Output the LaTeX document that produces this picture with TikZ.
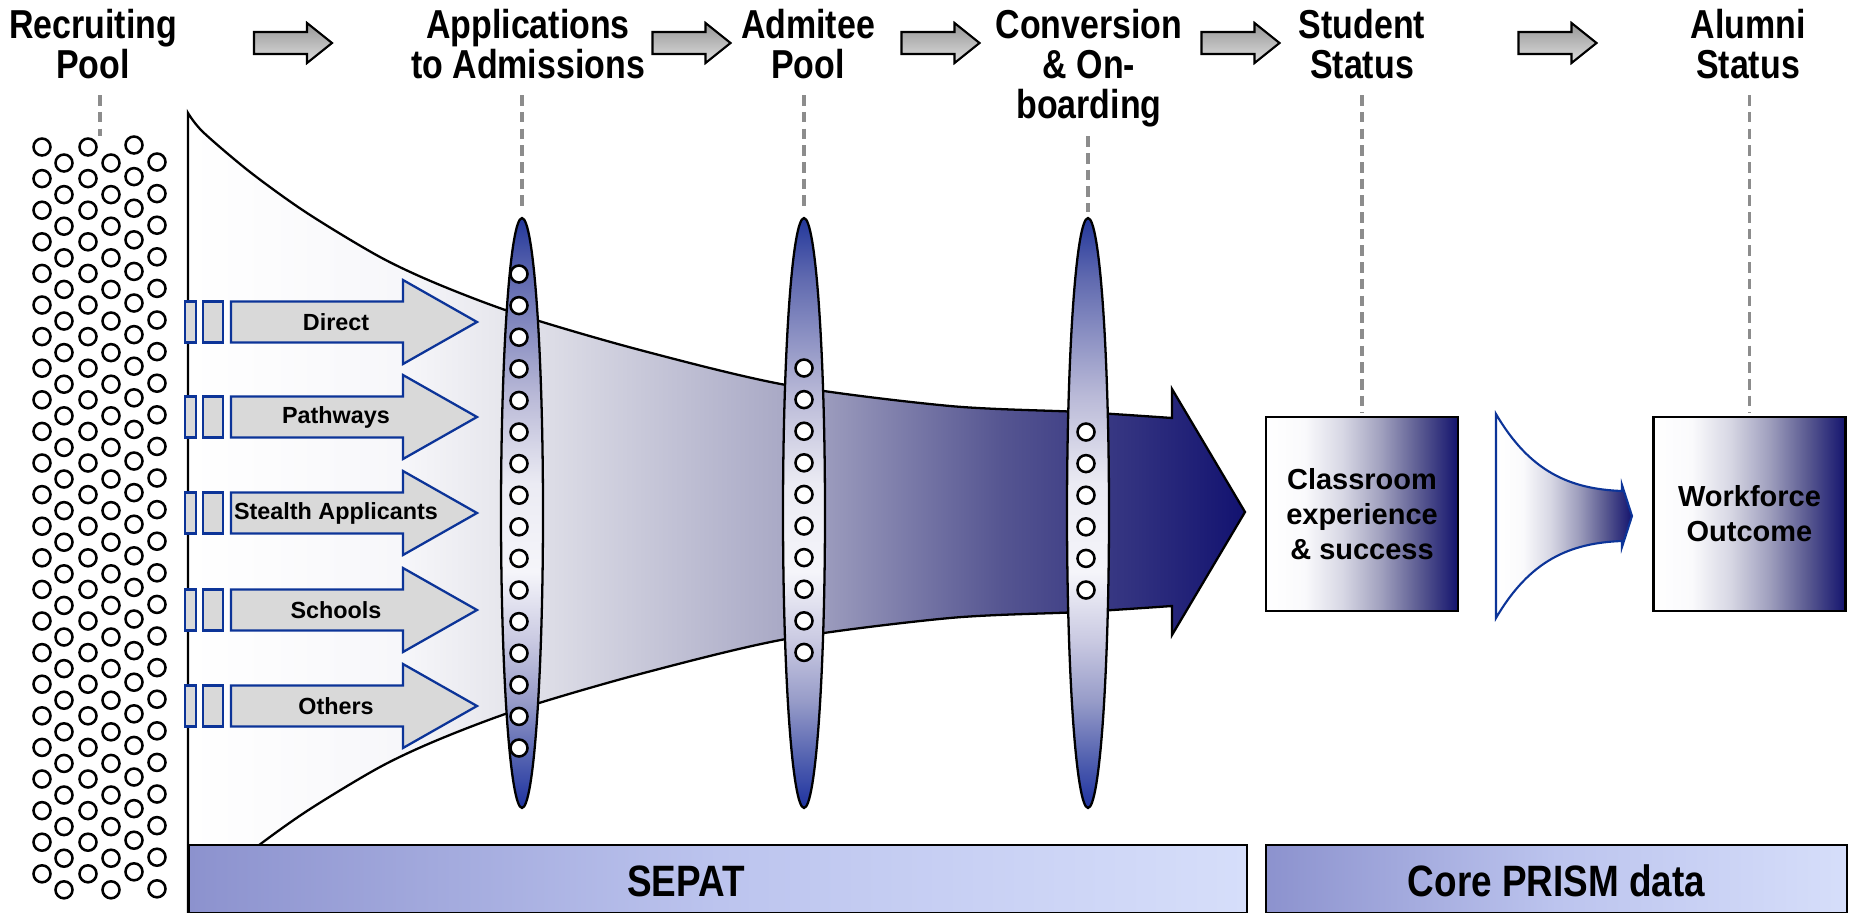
\documentclass[tikz,border=0pt]{standalone}
\usepackage{fontspec}
\setmainfont{Liberation Sans}
\newfontfamily\narrowfont{Liberation Sans}[FakeStretch=0.84]
\usetikzlibrary{shapes.geometric}

\definecolor{navy}{RGB}{18,18,112}
\definecolor{chanblue}{RGB}{12,52,152}
\definecolor{chanfill}{RGB}{217,217,217}
\definecolor{leadgray}{RGB}{140,140,140}
\definecolor{arrtop}{RGB}{150,150,150}
\definecolor{arrbot}{RGB}{222,222,222}
\definecolor{barleft}{RGB}{140,146,206}
\definecolor{barmid}{RGB}{188,196,238}
\definecolor{barright}{RGB}{214,222,250}
\definecolor{fnA}{RGB}{247,247,250}
\definecolor{fnB}{RGB}{228,228,235}
\definecolor{fnC}{RGB}{165,165,195}
\definecolor{fnD}{RGB}{85,85,145}
\definecolor{lnA}{RGB}{35,55,155}
\definecolor{lnB}{RGB}{95,105,175}
\definecolor{lnC}{RGB}{140,145,195}
\definecolor{lnD}{RGB}{185,185,215}
\definecolor{lnE}{RGB}{235,235,243}
\definecolor{lnF}{RGB}{245,245,250}
\definecolor{lnG}{RGB}{200,200,225}
\definecolor{lnH}{RGB}{150,155,200}
\definecolor{lnI}{RGB}{80,95,175}
\definecolor{lnJ}{RGB}{30,50,160}
\definecolor{bxA}{RGB}{250,250,252}
\definecolor{bxB}{RGB}{215,215,228}
\definecolor{bxC}{RGB}{160,160,190}
\definecolor{bxD}{RGB}{90,90,145}
\definecolor{bxE}{RGB}{20,20,110}

\pgfdeclarehorizontalshading{funnelshade}{100bp}{color(0bp)=(white); color(25bp)=(white); color(35bp)=(fnA); color(40.5bp)=(fnB); color(54bp)=(fnC); color(63.5bp)=(fnD); color(75bp)=(navy); color(100bp)=(navy)}
\pgfdeclareverticalshading{lensshade}{100bp}{color(0bp)=(lnJ); color(25bp)=(lnJ); color(29bp)=(lnI); color(34bp)=(lnH); color(39bp)=(lnG); color(45bp)=(lnF); color(52.5bp)=(lnE); color(60bp)=(lnD); color(65bp)=(lnC); color(70bp)=(lnB); color(75bp)=(lnA); color(100bp)=(lnA)}
\pgfdeclarehorizontalshading{boxshade}{100bp}{color(0bp)=(white); color(25bp)=(white); color(35bp)=(bxA); color(45bp)=(bxB); color(55bp)=(bxC); color(65bp)=(bxD); color(75bp)=(bxE); color(100bp)=(bxE)}

\begin{document}
\begin{tikzpicture}[x=0.02cm, y=-0.02cm,
  ttl/.style={font=\narrowfont\bfseries\fontsize{23}{22.7}\selectfont, align=center, anchor=north, inner sep=0pt},
  leader/.style={draw=leadgray, line width=2pt, dash pattern=on 6pt off 3.5pt},
  hdrarrow/.style={draw=black, line width=1.2pt, top color=arrtop, bottom color=arrbot},
  poolcirc/.style={draw=black, line width=1.45pt, fill=white},
  funnel/.style={draw=black, line width=1.3pt, shade, shading=funnelshade},
  lens/.style={ellipse, draw=black, line width=1.3pt, shade, shading=lensshade, minimum width=0.84cm, minimum height=11.8cm, inner sep=0pt},
  chan/.style={draw=chanblue, line width=1.3pt, fill=chanfill},
  chantext/.style={font=\bfseries\fontsize{13.3}{16}\selectfont, inner sep=0pt},
  outbox/.style={draw=black, line width=1.3pt, shade, shading=boxshade, minimum width=3.84cm, minimum height=3.88cm, align=center, inner sep=0pt, font=\bfseries\fontsize{16.5}{19.8}\selectfont},
  flare/.style={draw=chanblue, line width=1.2pt, shade, shading=boxshade},
  databar/.style={draw=black, line width=1.3pt, left color=barleft, right color=barright, middle color=barmid, minimum height=1.36cm, inner sep=0pt},
  bartext/.style={font=\narrowfont\bfseries\fontsize{25}{27}\selectfont, inner sep=0pt}
]
\useasboundingbox (0,0) rectangle (1854,913);

% funnel into the big arrow
\draw[funnel] plot[smooth, tension=0.5] coordinates {(188,113) (203,132) (250,172) (307,213) (380,257) (440,285) (520,315) (640,350) (786,385) (950,406) (1080,412) (1172,418)}
  -- (1172,389) -- (1245,512) -- (1172,635)
  -- plot[smooth, tension=0.5] coordinates {(1172,606) (1080,612) (950,618) (786,639) (640,674) (520,709) (440,739) (380,767) (307,811) (250,852) (203,892) (188,911)}
  -- cycle;

% recruiting pool
\foreach \px/\py in {42/147, 64/163, 88/147, 111/163, 134/145, 157/162}
  \foreach \k in {0,...,23} \draw[poolcirc] (\px,{\py+31.6*\k}) circle[radius=8.5];

% channels
\foreach \cy/\lbl [count=\i] in {322/Direct, 417/Pathways, 513/Stealth Applicants, 610/Schools, 706/Others} {
  \draw[chan] (185,{\cy-20.5}) rectangle (196,{\cy+20.5});
  \draw[chan] (203,{\cy-20.5}) rectangle (223,{\cy+20.5});
  \draw[chan] (231,{\cy-20.5}) -- (403,{\cy-20.5}) -- (403,{\cy-42}) -- (477,\cy) -- (403,{\cy+42}) -- (403,{\cy+20.5}) -- (231,{\cy+20.5}) -- cycle;
  \node[chantext] (chan\i) at (336,\cy) {\lbl};
}

% filters
\node[lens] (lensapp) at (522,513) {};
\node[lens] (lensadm) at (804,513) {};
\node[lens] (lensconv) at (1088,513) {};
\foreach \k in {0,...,15} \draw[poolcirc] (519,{274+31.6*\k}) circle[radius=8.5];
\foreach \k in {0,...,9} \draw[poolcirc] (804,{368+31.6*\k}) circle[radius=8.5];
\foreach \k in {0,...,5} \draw[poolcirc] (1086,{432+31.6*\k}) circle[radius=8.5];

% student and alumni
\node[outbox] (classbox) at (1362,514) {Classroom\\experience\\\& success};
\node[outbox] (wfbox) at (1749.5,514) {Workforce\\Outcome};
\draw[flare] (1496,414) .. controls (1530,472) and (1570,489) .. (1622,491) -- (1622,485) -- (1632,516) -- (1622,547) -- (1622,541) .. controls (1570,543) and (1530,560) .. (1496,618) -- cycle;

% data sources
\node[databar, minimum width=21.16cm] (sepat) at (718,879) {};
\node[bartext] (sepatlbl) at (686,881) {SEPAT};
\node[databar, minimum width=11.62cm] (prism) at (1556.5,879) {};
\node[bartext] (prismlbl) at (1556.5,881) {Core PRISM data};

% stages
\node[ttl] (ttlpool) at (93,9) {Recruiting\\Pool};
\node[ttl] (ttlapp) at (528,9) {Applications\\to Admissions};
\node[ttl] (ttladm) at (808,9) {Admitee\\Pool};
\node[ttl] (ttlconv) at (1089,9) {Conversion\\\& On-\\boarding};
\node[ttl] (ttlstu) at (1362,9) {Student\\Status};
\node[ttl] (ttlalu) at (1748,9) {Alumni\\Status};
\foreach \ax in {293, 691.5, 940.5, 1240.5, 1557.5}
  \draw[hdrarrow] ({\ax-39},32) -- ++(53,0) -- ++(0,-9) -- ++(25,20) -- ++(-25,20) -- ++(0,-9) -- ++(-53,0) -- cycle;

\coordinate (pooltop) at (100,136);
\draw[leader, shorten <=0.32cm] (pooltop |- ttlpool.south) -- (pooltop);
\draw[leader, shorten <=0.32cm, shorten >=0.1cm] (lensapp.north |- ttlapp.south) -- (lensapp.north);
\draw[leader, shorten <=0.32cm, shorten >=0.1cm] (lensadm.north |- ttladm.south) -- (lensadm.north);
\draw[leader, shorten <=0.18cm, shorten >=0.1cm] (lensconv.north |- ttlconv.south) -- (lensconv.north);
\draw[leader, shorten <=0.32cm, shorten >=0.06cm] (classbox.north |- ttlstu.south) -- (classbox.north);
\draw[leader, shorten <=0.32cm, shorten >=0.06cm] (wfbox.north |- ttlalu.south) -- (wfbox.north);
\end{tikzpicture}
\end{document}
